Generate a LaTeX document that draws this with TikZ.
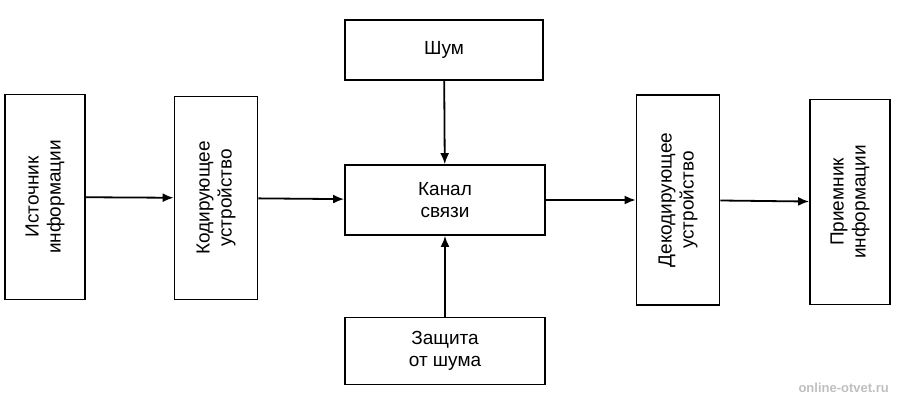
\documentclass[tikz,border=0pt]{standalone}
\usepackage{fontspec}
\setmainfont{Liberation Sans}
\usetikzlibrary{arrows.meta}
\begin{document}
\begin{tikzpicture}[
    x=1pt, y=-1pt,
    line width=1.8pt,
    blk/.style={draw, align=center, font=\fontsize{19}{22}\selectfont, inner sep=0pt},
    vblk/.style={blk, rotate=90},
    flow/.style={-{Latex[length=11pt,width=9pt]}},
    ]
    \useasboundingbox (0,0) rectangle (897,400);
    % blocks
    \node[vblk, minimum width=205, minimum height=80] (src) at (45,197) {Источник\\информации};
    \node[vblk, minimum width=203, minimum height=83] (enc) at (216,198) {Кодирующее\\устройство};
    \node[blk, minimum width=198, minimum height=60] (noise) at (444,50) {Шум};
    \node[blk, minimum width=200, minimum height=70] (chan) at (445,200) {Канал\\связи};
    \node[blk, minimum width=200, minimum height=67] (prot) at (445,351) {Защита\\от шума};
    \node[vblk, minimum width=210, minimum height=83] (dec) at (678,200) {Декодирующее\\устройство};
    \node[vblk, minimum width=205, minimum height=80] (dst) at (850,202) {Приемник\\информации};
    % connectors
    \draw[flow] (src) -- (enc);
    \draw[flow] (enc) -- (chan);
    \draw[flow] (chan) -- (dec);
    \draw[flow] (dec) -- (dst);
    \draw[flow] (noise) -- (chan);
    \draw[flow] (prot) -- (chan);
    % watermark
    \node[text=black!25, font=\bfseries\fontsize{13}{15}\selectfont, anchor=south east] (mark) at (893,397) {online-otvet.ru};
\end{tikzpicture}
\end{document}
